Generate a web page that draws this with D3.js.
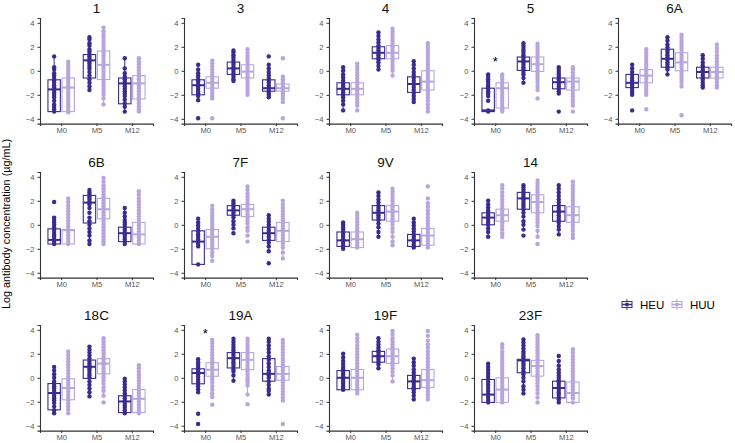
<!DOCTYPE html>
<html><head><meta charset="utf-8">
<script src="https://cdn.jsdelivr.net/npm/d3@7"></script>
<style>body{margin:0;background:#fff}svg{display:block;font-family:"Liberation Sans",Arial,sans-serif}</style>
</head><body>
<script>
const serotypes = ["1","3","4","5","6A","6B","7F","9V","14","18C","19A","19F","23F"];
const timepoints = ["M0","M5","M12"];
const groups = ["HEU","HUU"];
const yTicks = [-4,-2,0,2,4];
const yLabel = "Log antibody concentration (µg/mL)";
// significance marks: [serotype, timepoint, y]
const sigMarks = [["5","M0",0.85],["19A","M0",3.75]];

// box quartiles [q1, median, q3] per serotype, per timepoint
const boxHEU = [
 [[-3.4,-1.55,-0.75],[-0.6,0.87,1.35],[-2.75,-1.05,-0.6]],
 [[-2.0,-1.2,-0.75],[-0.3,0.2,0.73],[-1.7,-1.45,-0.75]],
 [[-2.0,-1.5,-1.0],[1.0,1.5,2.0],[-1.8,-1.1,-0.5]],
 [[-3.4,-3.3,-1.45],[0.03,0.78,1.15],[-1.5,-0.95,-0.6]],
 [[-1.4,-1.0,-0.3],[0.3,1.0,1.8],[-0.6,-0.1,0.3]],
 [[-1.6,-1.26,-0.34],[0.15,1.85,2.45],[-1.4,-0.7,-0.2]],
 [[-3.3,-1.4,-0.5],[0.8,1.2,1.6],[-1.3,-0.7,-0.2]],
 [[-1.8,-1.3,-0.6],[0.4,1.0,1.6],[-1.8,-1.3,-0.8]],
 [[0,0.6,1.0],[1.3,2.2,2.7],[0.3,1.1,1.6]],
 [[-2.67,-1.27,-0.48],[-0.05,0.92,1.48],[-2.9,-1.97,-1.5]],
 [[-0.5,0.4,0.75],[0.82,1.64,2.1],[-0.28,0.33,1.6]],
 [[-1.0,0,0.6],[1.3,1.8,2.2],[-0.9,-0.3,0.2]],
 [[-2.05,-1.4,-0.14],[0.42,1.45,1.54],[-1.68,-0.85,-0.28]]
];
const boxHUU = [
 [[-3.4,-1.4,-0.6],[-0.73,0.5,1.65],[-2.35,-1.05,-0.4]],
 [[-1.45,-1.0,-0.5],[-0.6,-0.07,0.5],[-1.7,-1.45,-1.1]],
 [[-2.0,-1.5,-1.0],[1.0,1.5,2.1],[-1.6,-0.9,0]],
 [[-3.1,-1.45,-1.0],[-0.05,0.55,1.15],[-1.6,-0.9,-0.6]],
 [[-1.0,-0.4,0.1],[0,0.7,1.5],[-0.6,-0.1,0.3]],
 [[-1.6,-0.45,-0.4],[0.5,1.3,2.2],[-1.6,-0.8,0.2]],
 [[-2.0,-1.0,-0.4],[0.7,1.3,1.7],[-1.4,-0.5,0.2]],
 [[-1.9,-1.2,-0.6],[0.3,1.1,1.6],[-1.7,-0.9,-0.3]],
 [[0.3,0.8,1.3],[1.0,1.9,2.5],[0.2,0.8,1.5]],
 [[-1.83,-0.85,-0.08],[0.33,1.18,1.6],[-2.9,-1.75,-0.98]],
 [[0.13,0.67,1.25],[0.68,1.5,2.1],[-0.2,0.33,0.95]],
 [[-1.0,0,0.7],[1.2,1.8,2.4],[-0.8,-0.2,0.7]],
 [[-2.05,-0.98,0],[0.14,0.98,1.45],[-2.05,-1.27,-0.35]]
];

// individual observations (log µg/mL)
const pointsHEU = [
 [[1.2,0.3,0.1,-0.2,-0.4,-0.6,-0.8,-1.0,-1.2,-1.4,-1.6,-1.8,-2.0,-2.2,-2.5,-2.8,-3.0,-3.2,-3.4],
  [2.8,2.6,2.3,2.1,1.8,1.6,1.4,1.2,1.0,0.8,0.6,0.4,0.2,-0.1,-0.4,-0.7,-1.0,-1.3,-1.6],
  [1.05,0.2,-0.2,-0.5,-0.7,-0.9,-1.1,-1.3,-1.5,-1.7,-1.9,-2.1,-2.4,-2.7,-3.0,-3.4]],
 [[0.5,0.1,-0.2,-0.45,-0.7,-0.9,-1.1,-1.3,-1.5,-1.7,-1.9,-2.1,-2.45,-3.95],
  [1.7,1.5,1.3,1.1,0.9,0.7,0.5,0.3,0.1,-0.1,-0.3,-0.5,-0.7,-0.85],
  [1.2,0.5,0.2,-0.1,-0.35,-0.6,-0.8,-1.0,-1.2,-1.4,-1.6,-1.8,-2.0,-2.2]],
 [[0.3,0,-0.3,-0.55,-0.8,-1.0,-1.2,-1.4,-1.6,-1.8,-2.0,-2.2,-2.5,-2.8,-3.3],
  [3.2,2.9,2.6,2.35,2.1,1.9,1.7,1.5,1.3,1.1,0.9,0.7,0.4,0.1],
  [0.8,0.5,0.2,-0.1,-0.35,-0.6,-0.85,-1.1,-1.35,-1.6,-1.85,-2.1,-2.35,-2.6]],
 [[-0.3,-0.5,-0.7,-0.9,-1.1,-1.3,-1.5,-1.7,-1.9,-2.1,-2.5,-3.3,-3.4],
  [2.3,2.1,1.9,1.7,1.5,1.3,1.1,0.9,0.7,0.5,0.3,0.1,-0.1,-0.3,-0.6,-1.0],
  [0.3,0.1,-0.1,-0.3,-0.5,-0.7,-0.9,-1.1,-1.3,-1.5,-1.7,-1.9,-3.4]],
 [[0.5,0.2,-0.1,-0.35,-0.6,-0.8,-1.0,-1.2,-1.4,-1.6,-1.8,-2.0,-3.3],
  [2.8,2.5,2.2,1.95,1.7,1.5,1.3,1.1,0.9,0.7,0.5,0.3,0.1,-0.3],
  [1.3,1.0,0.7,0.45,0.25,0.05,-0.15,-0.35,-0.55,-0.75,-1.0,-1.2,-1.4]],
 [[1.9,0.6,0.4,0.2,0,-0.2,-0.4,-0.6,-0.8,-1.0,-1.2,-1.4,-1.6],
  [2.9,2.7,2.5,2.3,2.1,1.9,1.7,1.4,1.0,0.6,0.3,0,-0.3,-0.6,-0.9,-1.3,-1.6],
  [1.4,1.0,0.7,0.4,0.2,0,-0.2,-0.4,-0.6,-0.8,-1.0,-1.2,-1.4,-1.6]],
 [[0.5,0.2,-0.05,-0.3,-0.55,-0.8,-1.0,-1.2,-1.4,-1.6,-1.8,-3.3],
  [2.0,1.8,1.6,1.4,1.2,1.0,0.8,0.6,0.3,0,-0.3,-0.7],
  [0.8,0.5,0.25,0,-0.25,-0.5,-0.75,-1.0,-1.25,-1.5,-1.8,-2.2,-3.2]],
 [[0.2,0,-0.2,-0.4,-0.6,-0.8,-1.0,-1.2,-1.4,-1.6,-1.8,-2.0],
  [2.7,2.4,2.1,1.85,1.6,1.4,1.2,1.0,0.8,0.6,0.4,0.1,-0.2,-0.6,-1.0],
  [0.5,0.2,-0.05,-0.3,-0.55,-0.8,-1.0,-1.2,-1.4,-1.6,-1.8,-1.9]],
 [[2.0,1.7,1.45,1.2,1.0,0.8,0.6,0.4,0.2,0,-0.3,-0.6,-1.0],
  [3.3,3.1,2.9,2.7,2.5,2.3,2.1,1.9,1.7,1.5,1.3,1.0,0.7,0.3,0,-0.4,-0.9],
  [3.3,3.0,2.7,2.4,2.1,1.85,1.6,1.4,1.2,1.0,0.8,0.6,0.4,0.2,-0.1,-0.4,-0.8]],
 [[0.9,0.6,0.3,0,-0.3,-0.5,-0.7,-0.9,-1.1,-1.3,-1.5,-1.7,-1.9,-2.1,-2.4,-2.7,-2.95],
  [2.6,2.35,2.1,1.85,1.6,1.4,1.2,1.0,0.8,0.6,0.4,0.2,0,-0.3,-0.6,-0.9,-1.2,-1.55],
  [-0.08,-0.3,-0.55,-0.8,-1.05,-1.3,-1.5,-1.7,-1.9,-2.1,-2.3,-2.5,-2.7,-2.95]],
 [[1.55,1.3,1.1,0.9,0.7,0.5,0.3,0.1,-0.1,-0.3,-0.5,-0.7,-0.95,-1.2,-3.0,-3.85],
  [3.25,3.0,2.75,2.5,2.3,2.1,1.9,1.7,1.5,1.3,1.1,0.9,0.7,0.5,0.2,-0.25],
  [3.25,3.0,2.7,2.4,2.1,1.8,1.5,1.2,0.9,0.6,0.4,0.2,0,-0.3,-0.6,-0.9,-1.1,-1.4]],
 [[2.0,1.7,1.4,1.15,0.9,0.7,0.5,0.3,0.1,-0.1,-0.3,-0.5,-0.7,-0.9,-1.0],
  [3.3,3.0,2.75,2.5,2.3,2.1,1.9,1.7,1.5,1.3,1.1,0.8],
  [1.6,1.3,1.0,0.7,0.45,0.2,0,-0.2,-0.4,-0.6,-0.8,-1.0,-1.2,-1.5,-1.8]],
 [[1.17,0.9,0.65,0.4,0.15,-0.1,-0.35,-0.6,-0.85,-1.1,-1.35,-1.6,-1.85,-2.05],
  [3.2,2.95,2.7,2.45,2.2,2.0,1.8,1.6,1.4,1.2,1.0,0.8,0.55,0.3,0,-0.3,-0.7,-1.0,-1.3],
  [1.82,1.4,1.0,0.7,0.45,0.2,0,-0.2,-0.4,-0.6,-0.8,-1.0,-1.2,-1.4,-1.6,-1.8,-2.05]]
];
const pointsHUU = [
 [[0.75,0.5,0.25,0,-0.25,-0.5,-0.75,-1.0,-1.25,-1.5,-1.75,-2.0,-2.25,-2.5,-2.75,-3.0,-3.25,-3.45],
  [3.6,3.3,3.0,2.75,2.5,2.25,2.0,1.75,1.5,1.25,1.0,0.75,0.5,0.25,0,-0.25,-0.5,-0.75,-1.0,-1.25,-1.5,-1.75,-2.0,-2.3,-2.8],
  [1.05,0.8,0.55,0.3,0.05,-0.2,-0.45,-0.7,-0.95,-1.2,-1.45,-1.7,-1.95,-2.2,-2.45,-2.7,-2.95,-3.2,-3.4]],
 [[0.85,0.6,0.35,0.1,-0.15,-0.4,-0.65,-0.9,-1.15,-1.4,-1.65,-1.9,-2.1,-2.3,-3.95],
  [1.8,1.5,1.25,1.0,0.75,0.5,0.25,0,-0.25,-0.5,-0.75,-1.0,-1.25,-1.5,-1.75,-2.0],
  [1.05,-0.5,-0.7,-0.9,-1.1,-1.3,-1.5,-1.7,-1.9,-2.1,-2.3,-2.6,-3.95]],
 [[0.6,0.35,0.1,-0.15,-0.4,-0.65,-0.9,-1.15,-1.4,-1.65,-1.9,-2.15,-2.4,-2.65,-2.9,-3.3],
  [3.5,3.25,3.0,2.75,2.5,2.25,2.0,1.75,1.5,1.25,1.0,0.75,0.5,0.25,0,-0.4],
  [2.3,2.0,1.75,1.5,1.25,1.0,0.75,0.5,0.25,0,-0.25,-0.5,-0.75,-1.0,-1.25,-1.5,-1.75,-2.0,-2.25,-2.5,-2.8,-3.1,-3.4]],
 [[-0.3,-0.5,-0.75,-1.0,-1.25,-1.5,-1.75,-2.0,-2.25,-2.5,-2.75,-3.0,-3.2,-3.4],
  [2.25,2.0,1.75,1.5,1.25,1.0,0.75,0.5,0.25,0,-0.25,-0.5,-0.75,-1.0,-1.3,-1.6,-2.3],
  [0.3,0.1,-0.15,-0.4,-0.65,-0.9,-1.15,-1.4,-1.65,-1.9,-2.15,-2.4,-2.6,-2.9,-3.4]],
 [[1.8,1.5,1.25,1.0,0.75,0.5,0.25,0,-0.25,-0.5,-0.75,-1.0,-1.25,-1.5,-1.75,-2.0,-3.2],
  [3.0,2.75,2.5,2.25,2.0,1.75,1.5,1.25,1.0,0.75,0.5,0.25,0,-0.25,-0.5,-0.75,-1.0,-1.3,-3.7],
  [2.2,1.9,1.6,1.3,1.05,0.8,0.55,0.3,0.05,-0.2,-0.45,-0.7,-0.95,-1.2,-1.4]],
 [[2.2,1.9,1.6,1.35,1.1,0.85,0.6,0.35,0.1,-0.15,-0.4,-0.65,-0.9,-1.15,-1.4,-1.6],
  [3.9,3.6,3.3,3.05,2.8,2.55,2.3,2.05,1.8,1.55,1.3,1.05,0.8,0.55,0.3,0.05,-0.2,-0.45,-0.7,-0.95,-1.2,-1.4,-1.6],
  [2.8,2.5,2.2,1.95,1.7,1.45,1.2,0.95,0.7,0.45,0.2,-0.05,-0.3,-0.55,-0.8,-1.05,-1.3,-1.6]],
 [[1.6,1.3,1.0,0.75,0.5,0.25,0,-0.25,-0.5,-0.75,-1.0,-1.25,-1.5,-1.75,-2.0,-2.3,-2.6,-3.0],
  [3.2,2.9,2.6,2.35,2.1,1.85,1.6,1.35,1.1,0.85,0.6,0.35,0.1,-0.2,-0.5,-0.9,-1.4],
  [2.0,1.7,1.4,1.15,0.9,0.65,0.4,0.15,-0.1,-0.35,-0.6,-0.85,-1.1,-1.35,-1.6,-1.9,-2.3,-2.8]],
 [[1.0,0.75,0.5,0.25,0,-0.25,-0.5,-0.75,-1.0,-1.25,-1.5,-1.75,-1.9],
  [3.0,2.75,2.5,2.25,2.0,1.75,1.5,1.25,1.0,0.75,0.5,0.25,0,-0.3,-0.6,-1.0,-1.4,-1.7],
  [3.2,2.2,1.8,1.5,1.2,0.9,0.6,0.35,0.1,-0.15,-0.4,-0.65,-0.9,-1.15,-1.4,-1.65,-1.9]],
 [[3.3,3.0,2.7,2.4,2.1,1.85,1.6,1.35,1.1,0.85,0.6,0.35,0.1,-0.15,-0.4,-0.7,-1.0],
  [3.7,3.45,3.2,2.95,2.7,2.45,2.2,1.95,1.7,1.45,1.2,0.95,0.7,0.45,0.2,-0.1,-0.5,-1.0,-1.6],
  [3.6,3.3,3.0,2.75,2.5,2.25,2.0,1.75,1.5,1.25,1.0,0.75,0.5,0.25,0,-0.25,-0.5,-0.8,-1.1]],
 [[2.2,1.9,1.6,1.35,1.1,0.85,0.6,0.35,0.1,-0.15,-0.4,-0.65,-0.9,-1.15,-1.4,-1.65,-1.9,-2.15,-2.4,-2.65,-2.95],
  [3.3,3.05,2.8,2.55,2.3,2.05,1.8,1.55,1.3,1.05,0.8,0.55,0.3,0.05,-0.2,-0.5,-0.8,-1.1,-1.5,-2.05],
  [1.05,0.8,0.5,0.25,0,-0.25,-0.5,-0.75,-1.0,-1.25,-1.5,-1.75,-2.0,-2.25,-2.5,-2.75,-2.95]],
 [[3.15,2.9,2.6,2.35,2.1,1.85,1.6,1.35,1.1,0.85,0.6,0.35,0.1,-0.15,-0.4,-0.7,-1.0,-1.3,-1.6,-2.25],
  [3.25,3.0,2.75,2.5,2.25,2.0,1.75,1.5,1.25,1.0,0.75,0.5,0.25,0,-0.2,-0.4,-0.65,-1.4,-2.2],
  [3.15,2.9,2.6,2.35,2.1,1.85,1.6,1.35,1.1,0.85,0.6,0.35,0.1,-0.15,-0.4,-0.65,-0.9,-1.15,-1.4,-1.65,-1.9,-3.85]],
 [[3.6,3.3,3.0,2.7,2.45,2.2,1.95,1.7,1.45,1.2,0.95,0.7,0.45,0.2,-0.05,-0.3,-0.55,-0.8,-1.05,-1.3],
  [3.9,3.6,3.3,3.05,2.8,2.55,2.3,2.05,1.8,1.55,1.3,1.05,0.8,0.5,0.2,-0.3],
  [3.9,3.5,3.1,2.8,2.5,2.2,1.9,1.6,1.35,1.1,0.85,0.6,0.35,0.1,-0.15,-0.4,-0.65,-0.9,-1.15,-1.4,-1.6,-1.8]],
 [[2.8,2.5,2.2,1.95,1.7,1.45,1.2,0.95,0.7,0.45,0.2,-0.05,-0.3,-0.55,-0.8,-1.05,-1.3,-1.55,-1.8,-2.05],
  [3.55,3.3,3.05,2.8,2.55,2.3,2.05,1.8,1.55,1.3,1.05,0.8,0.55,0.3,0.05,-0.2,-0.45,-0.7,-1.0,-1.3,-1.65,-2.05],
  [2.38,2.1,1.8,1.55,1.3,1.05,0.8,0.55,0.3,0.05,-0.2,-0.45,-0.7,-0.95,-1.2,-1.45,-1.7,-2.05]]
];

const colors = {HEU:"#3b2b8e", HUU:"#b6a6dc"};
const W = 735, H = 443;
const colX = [40, 184, 329, 474, 618];
const rowTop = [18, 172, 325];
const PW = 113, PH = 105.6;
const boxData = {HEU: boxHEU, HUU: boxHUU};
const ptData = {HEU: pointsHEU, HUU: pointsHUU};

const svg = d3.select("body").append("svg").attr("width", W).attr("height", H);

const y = d3.scaleLinear().domain([-4.4, 4.4]).range([PH, 0]);
const x = d3.scalePoint().domain(timepoints).range([0, PW]).padding(0.6);
const step = x.step();
const dodge = d3.scaleBand().domain(groups).range([-0.375*step, 0.375*step]).paddingInner(0.12);
const bw = dodge.bandwidth();

serotypes.forEach((s, i) => {
  const row = i < 5 ? 0 : (i < 9 ? 1 : 2);
  const col = i < 5 ? i : (i < 9 ? i - 5 : i - 9);
  const g = svg.append("g").attr("transform", `translate(${colX[col]},${rowTop[row]})`);

  g.append("text").attr("x", PW/2).attr("y", -5).attr("text-anchor", "middle")
    .attr("font-size", 13.5).attr("font-weight", "normal").attr("fill", "#111").text(s);

  const ya = g.append("g").call(d3.axisLeft(y).tickValues(yTicks).tickSize(2.5).tickPadding(3));
  const xa = g.append("g").attr("transform", `translate(0,${PH})`)
    .call(d3.axisBottom(x).tickSize(2.5).tickPadding(2));
  [ya, xa].forEach(a => {
    a.select(".domain").attr("stroke", "#333").attr("stroke-width", 1.1);
    a.selectAll(".tick line").attr("stroke", "#333");
    a.selectAll(".tick text").attr("fill", "#555").attr("font-size", 7.6)
      .attr("font-family", "Liberation Sans, Arial, sans-serif");
  });

  timepoints.forEach((t, ti) => {
    groups.forEach(gr => {
      const [q1, med, q3] = boxData[gr][i][ti];
      const pts = ptData[gr][i][ti];
      const iqr = q3 - q1;
      const inRange = pts.filter(v => v >= q1 - 1.5*iqr && v <= q3 + 1.5*iqr);
      const lo = d3.min(inRange.concat([q1])), hi = d3.max(inRange.concat([q3]));
      const cx = x(t) + dodge(gr) + bw/2;
      const c = colors[gr];
      const bg = g.append("g");
      bg.append("line").attr("x1", cx).attr("x2", cx).attr("y1", y(q3)).attr("y2", y(hi))
        .attr("stroke", c).attr("stroke-width", 1);
      bg.append("line").attr("x1", cx).attr("x2", cx).attr("y1", y(q1)).attr("y2", y(lo))
        .attr("stroke", c).attr("stroke-width", 1);
      bg.append("rect").attr("x", cx - bw/2).attr("y", y(q3)).attr("width", bw)
        .attr("height", Math.max(0.5, y(q1) - y(q3))).attr("fill", "#fff")
        .attr("stroke", c).attr("stroke-width", 1.1);
      bg.selectAll("circle").data(pts).join("circle")
        .attr("cx", cx).attr("cy", d => y(d)).attr("r", 2.2).attr("fill", c);
      bg.append("line").attr("x1", cx - bw/2).attr("x2", cx + bw/2)
        .attr("y1", y(med)).attr("y2", y(med)).attr("stroke", c).attr("stroke-width", 2);
    });
  });

  sigMarks.filter(m => m[0] === s).forEach(m => {
    g.append("text").attr("x", x(m[1])).attr("y", y(m[2]) + 5).attr("text-anchor", "middle")
      .attr("font-size", 13).attr("fill", "#000").text("*");
  });
});

svg.append("text").attr("transform", "translate(10,224) rotate(-90)")
  .attr("text-anchor", "middle").attr("font-size", 10.8).attr("fill", "#000").text(yLabel);

// legend
const lg = svg.append("g").attr("transform", "translate(621,299)");
const legX = [0, 50];
groups.forEach((gr, k) => {
  const c = colors[gr];
  const kg = lg.append("g").attr("transform", `translate(${legX[k]},0)`);
  kg.append("line").attr("x1", 6).attr("x2", 6).attr("y1", 0).attr("y2", 11).attr("stroke", c);
  kg.append("rect").attr("x", 1).attr("y", 2.5).attr("width", 10).attr("height", 6)
    .attr("fill", "#fff").attr("stroke", c).attr("stroke-width", 1);
  kg.append("line").attr("x1", 1).attr("x2", 11).attr("y1", 5.5).attr("y2", 5.5).attr("stroke", c).attr("stroke-width", 1.5);
  kg.append("circle").attr("cx", 6).attr("cy", 5.5).attr("r", 2).attr("fill", c);
  kg.append("text").attr("x", 19).attr("y", 9.5).attr("font-size", 11.5).attr("fill", "#000").text(gr);
});
</script>
</body></html>
